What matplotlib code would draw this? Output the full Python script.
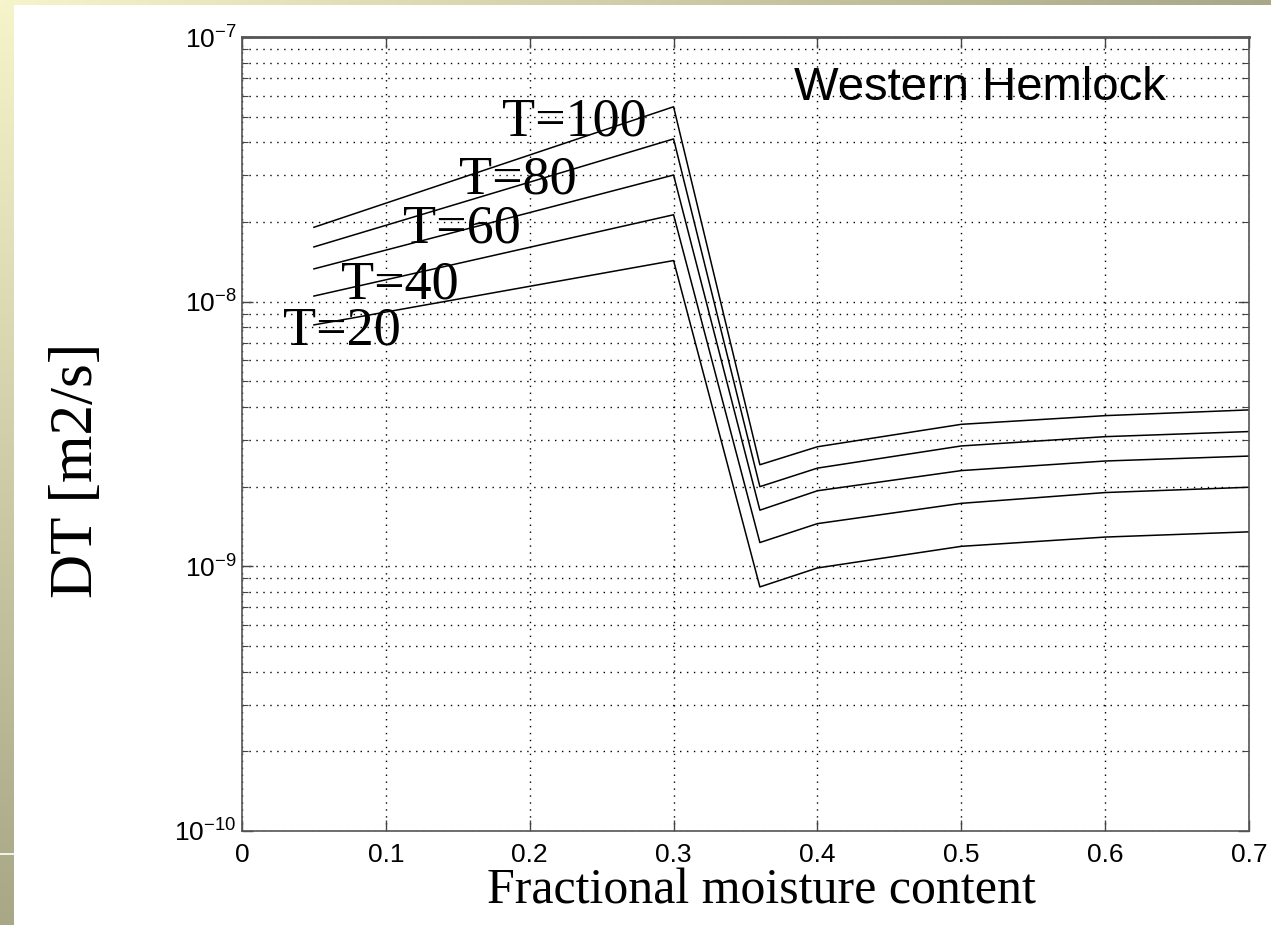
import numpy as np
import matplotlib
matplotlib.use('Agg')
import matplotlib.pyplot as plt
from matplotlib.ticker import LogLocator, FixedLocator

# ─── Datos ────────────────────────────────────────────────────────────────────
moisture = [0.05, 0.30, 0.36, 0.40, 0.50, 0.60, 0.70]
dt_T100 = [1.91e-8, 5.45e-8, 2.42e-9, 2.83e-9, 3.44e-9, 3.71e-9, 3.90e-9]
dt_T80 = [1.61e-8, 4.12e-8, 2.00e-9, 2.35e-9, 2.85e-9, 3.09e-9, 3.23e-9]
dt_T60 = [1.33e-8, 3.01e-8, 1.63e-9, 1.93e-9, 2.30e-9, 2.50e-9, 2.61e-9]
dt_T40 = [1.05e-8, 2.13e-8, 1.23e-9, 1.45e-9, 1.73e-9, 1.90e-9, 1.99e-9]
dt_T20 = [8.17e-9, 1.43e-8, 8.36e-10, 9.86e-10, 1.19e-9, 1.29e-9, 1.35e-9]

series = [dt_T100, dt_T80, dt_T60, dt_T40, dt_T20]
labels = ['T=100', 'T=80', 'T=60', 'T=40', 'T=20']
label_x = [0.181, 0.151, 0.112, 0.069, 0.0285]
label_y = [4.26e-8, 2.57e-8, 1.67e-8, 1.03e-8, 6.86e-9]

x_ticks = [0, 0.1, 0.2, 0.3, 0.4, 0.5, 0.6, 0.7]
x_tick_labels = ['0', '0.1', '0.2', '0.3', '0.4', '0.5', '0.6', '0.7']

# ─── Figura ───────────────────────────────────────────────────────────────────
W, H = 1271, 925
fig = plt.figure(figsize=(W / 100, H / 100), dpi=100)
fig.patch.set_facecolor('white')

# Fondo de diapositiva: franja izquierda y franja superior con degradado
yellow = np.array([246, 244, 202]) / 255
olive = np.array([168, 167, 134]) / 255
t = np.linspace(0, 1, 256)
grad = yellow[None, :] * (1 - t[:, None]) + olive[None, :] * t[:, None]

ax_left = fig.add_axes([0, 0, 14 / W, 1])
ax_left.imshow(grad[:, None, :], aspect='auto', extent=[0, 1, 0, 1])
ax_left.axhline(1 - 854 / H, color='white', lw=1.2)
ax_left.axis('off')

ax_top = fig.add_axes([0, 1 - 5 / H, 1, 5 / H])
ax_top.imshow(grad[None, :, :], aspect='auto', extent=[0, 1, 0, 1])
ax_top.axis('off')

# Ejes principales
x0, x1, y0, y1 = 242, 1249, 37, 831
ax = fig.add_axes([x0 / W, 1 - y1 / H, (x1 - x0) / W, (y1 - y0) / H])
ax.set_yscale('log')

for y, lab, lx, ly in zip(series, labels, label_x, label_y):
    ax.plot(moisture, y, color='black', lw=1.1)
    ax.text(lx, ly, lab, fontsize=39, family='Liberation Serif',
            ha='left', va='baseline', color='black')

ax.text(0.513, 5.78e-8, 'Western Hemlock', fontsize=34, family='Liberation Sans',
        ha='center', va='baseline', color='black')

ax.set_xlim(0, 0.7)
ax.set_ylim(1e-10, 1e-7)
ax.xaxis.set_major_locator(FixedLocator(x_ticks))
ax.set_xticklabels(x_tick_labels)
ax.yaxis.set_major_locator(LogLocator(base=10, numticks=10))
ax.yaxis.set_minor_locator(LogLocator(base=10, subs=np.arange(2, 10), numticks=20))

ax.grid(True, which='both', axis='y', linestyle=(0, (1, 4)), color='black', lw=1.0)
ax.grid(True, which='major', axis='x', linestyle=(0, (1, 4)), color='black', lw=1.0)

ax.tick_params(which='both', direction='in', top=True, right=True,
               labelsize=19, color='#444444')
ax.tick_params(axis='x', pad=9)
ax.tick_params(axis='y', pad=4)
ax.tick_params(which='major', length=8, width=1)
ax.tick_params(which='minor', length=4, width=0.8)
for lbl in ax.get_xticklabels() + ax.get_yticklabels():
    lbl.set_family('Liberation Sans')

for s in ax.spines.values():
    s.set_color('#555555')
    s.set_linewidth(1.2)
ax.spines['top'].set_linewidth(2)

ax.set_xlabel('Fractional moisture content', fontsize=36, family='Liberation Serif')
ax.xaxis.label.set_va('baseline')
ax.xaxis.set_label_coords((761.5 - x0) / (x1 - x0), (y1 - 903) / (y1 - y0))

ax.set_ylabel('DT [m2/s]', fontsize=44, family='Liberation Serif')
ax.yaxis.label.set_va('center')
ax.yaxis.set_label_coords((77 - x0) / (x1 - x0), (y1 - 470) / (y1 - y0))

fig.savefig('out.png', dpi=100)
